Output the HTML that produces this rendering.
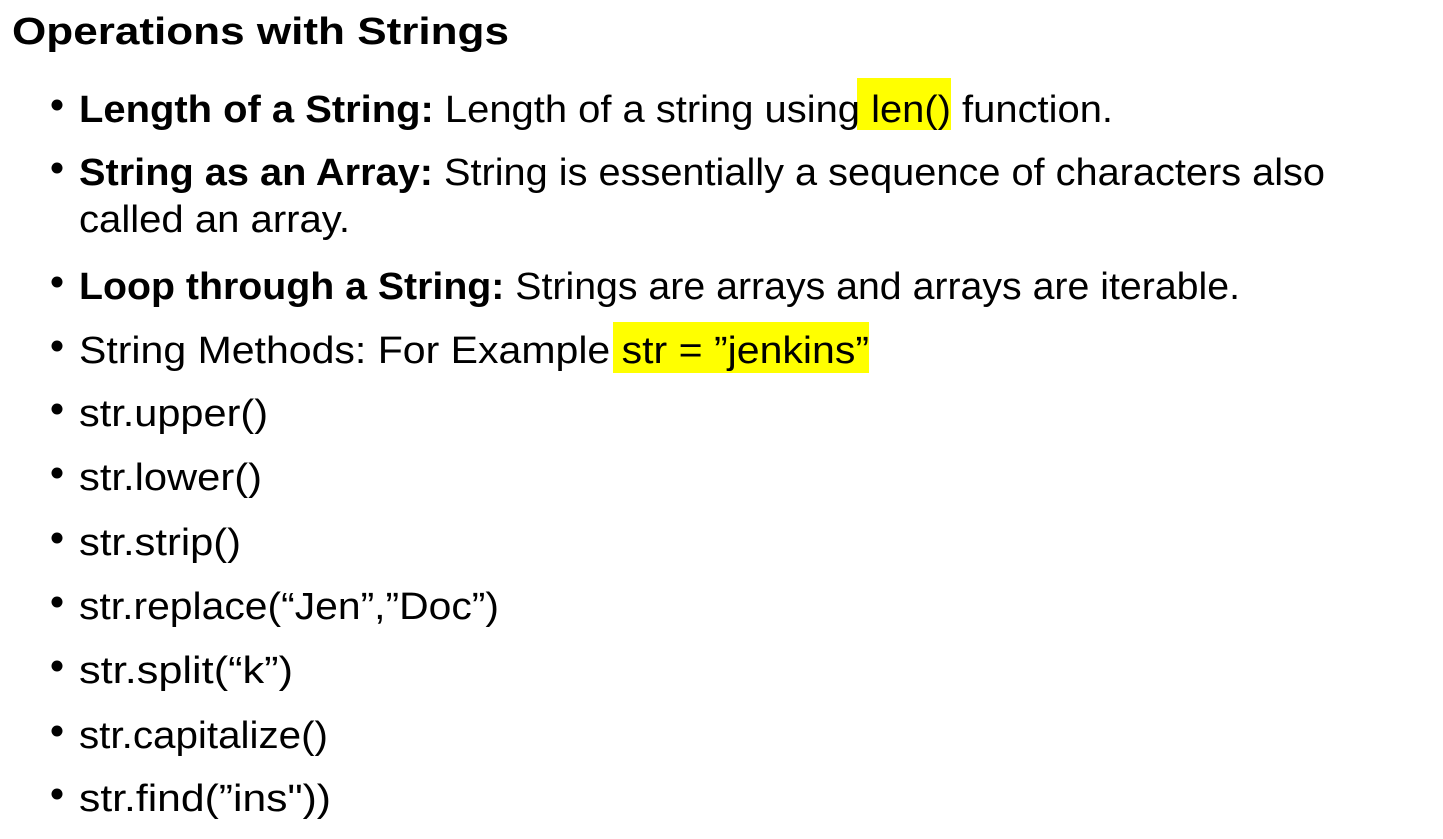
<!DOCTYPE html>
<html><head><meta charset="utf-8"><style>
html,body{margin:0;padding:0;background:#fff;width:1443px;height:839px;overflow:hidden}
text{font-family:"Liberation Sans",sans-serif;font-size:38px;fill:#000}
.b{font-weight:bold}
</style></head><body>
<svg width="1443" height="839" xmlns="http://www.w3.org/2000/svg">
<rect x="857" y="78" width="94" height="52" fill="#ffff00"/>
<rect x="613" y="322" width="256" height="51" fill="#ffff00"/>
<text class="b" x="12" y="44" font-size="40" textLength="497" lengthAdjust="spacingAndGlyphs">Operations with Strings</text>
<g fill="#000">
<circle cx="57" cy="105" r="5.5"/><circle cx="57" cy="168" r="5.5"/><circle cx="57" cy="282" r="5.5"/>
<circle cx="57" cy="346" r="5.5"/><circle cx="57" cy="409" r="5.5"/><circle cx="57" cy="473" r="5.5"/>
<circle cx="57" cy="538" r="5.5"/><circle cx="57" cy="602" r="5.5"/><circle cx="57" cy="666" r="5.5"/>
<circle cx="57" cy="731" r="5.5"/><circle cx="57" cy="794" r="5.5"/>
</g>
<text x="79" y="122" textLength="1034" lengthAdjust="spacingAndGlyphs"><tspan class="b">Length of a String:</tspan> Length of a string using len() function.</text>
<text x="79" y="185" textLength="1246" lengthAdjust="spacingAndGlyphs"><tspan class="b">String as an Array:</tspan>  String is essentially a sequence of characters also</text>
<text x="79" y="232" textLength="271" lengthAdjust="spacingAndGlyphs">called an array.</text>
<text x="79" y="299" textLength="1161" lengthAdjust="spacingAndGlyphs"><tspan class="b">Loop through a String:</tspan> Strings are arrays and arrays are iterable.</text>
<text x="79" y="363" textLength="790" lengthAdjust="spacingAndGlyphs">String Methods: For Example str = ”jenkins”</text>
<text x="79" y="426" textLength="189" lengthAdjust="spacingAndGlyphs">str.upper()</text>
<text x="79" y="490" textLength="183" lengthAdjust="spacingAndGlyphs">str.lower()</text>
<text x="79" y="555" textLength="162" lengthAdjust="spacingAndGlyphs">str.strip()</text>
<text x="79" y="619" textLength="420" lengthAdjust="spacingAndGlyphs">str.replace(“Jen”,”Doc”)</text>
<text x="79" y="683" textLength="214" lengthAdjust="spacingAndGlyphs">str.split(“k”)</text>
<text x="79" y="748" textLength="249" lengthAdjust="spacingAndGlyphs">str.capitalize()</text>
<text x="79" y="811" textLength="252" lengthAdjust="spacingAndGlyphs">str.find(”ins"))</text>
</svg>
</body></html>
